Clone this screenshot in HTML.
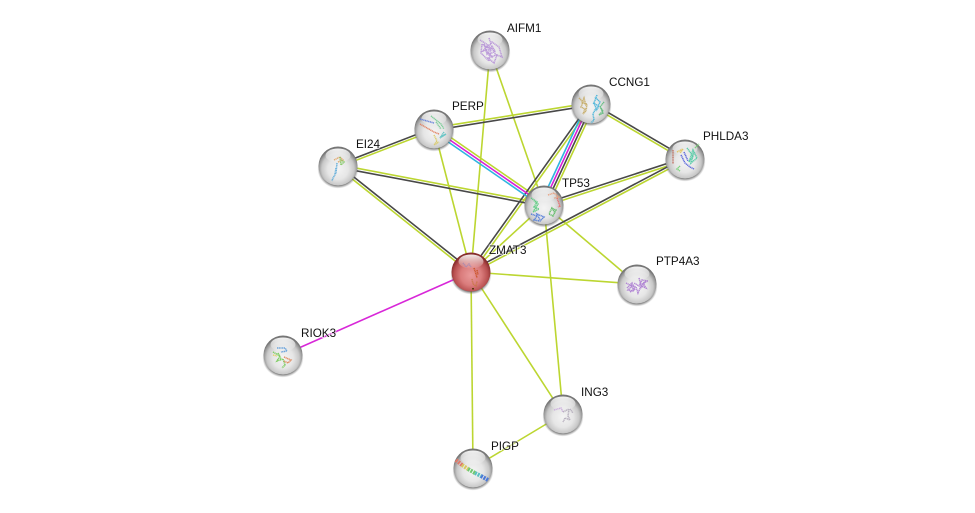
<!DOCTYPE html>
<html><head><meta charset="utf-8">
<style>
html,body{margin:0;padding:0;background:#fff;width:975px;height:513px;overflow:hidden}
svg{display:block}
text{font-family:"Liberation Sans",sans-serif;font-size:11.7px;fill:#111;stroke:#fff;stroke-width:2px;stroke-opacity:.6;paint-order:stroke}
.g line{stroke:#bcd631}.d line{stroke:#484848}
.g line,.d line,.o line{stroke-width:1.6;fill:none}
.s{fill:none;stroke-width:1.5;stroke-opacity:.88;stroke-linecap:butt;stroke-dasharray:1.2 .5}
</style></head><body>
<svg width="975" height="513" viewBox="0 0 975 513" xmlns="http://www.w3.org/2000/svg">
<defs>
<radialGradient id="b" cx="50%" cy="58%" r="53%">
<stop offset="0" stop-color="#f4f4f4"/><stop offset=".5" stop-color="#e6e6e6"/><stop offset=".78" stop-color="#c8c8c8"/><stop offset=".93" stop-color="#969696"/><stop offset="1" stop-color="#767676"/>
</radialGradient>
<radialGradient id="r" cx="50%" cy="58%" r="53%">
<stop offset="0" stop-color="#ea9a9a"/><stop offset=".5" stop-color="#da7c7c"/><stop offset=".82" stop-color="#b85050"/><stop offset="1" stop-color="#862c2c"/>
</radialGradient>
<linearGradient id="h" x1="0" y1="0" x2="0" y2="1">
<stop offset="0" stop-color="#fff" stop-opacity=".92"/><stop offset="1" stop-color="#fff" stop-opacity=".04"/>
</linearGradient>
<radialGradient id="sh" cx="50%" cy="50%" r="50%">
<stop offset=".84" stop-color="#444" stop-opacity=".75"/><stop offset="1" stop-color="#777" stop-opacity="0"/>
</radialGradient>
<g id="base">
<ellipse cx="0" cy="3" rx="20.500" ry="19.500" fill="url(#sh)"/>
<circle r="19.500" fill="url(#b)"/>
</g>
<g id="gloss"><ellipse cx="0" cy="-10.500" rx="12.500" ry="7" fill="url(#h)"/></g>
</defs>

<g class="g">
<line x1="490" y1="50" x2="471" y2="272"/>
<line x1="490" y1="50" x2="544" y2="205"/>
<line x1="434" y1="129" x2="471" y2="272"/>
<line x1="544" y1="205" x2="471" y2="272"/>
<line x1="544" y1="205" x2="637" y2="284"/>
<line x1="544" y1="205" x2="563" y2="414"/>
<line x1="471" y1="272" x2="637" y2="284"/>
<line x1="471" y1="272" x2="563" y2="414"/>
<line x1="471" y1="272" x2="473" y2="468"/>
<line x1="473" y1="468" x2="563" y2="414"/>
<line x1="434.4" y1="130.1" x2="338.4" y2="167.1"/>
<line x1="434" y1="127.7" x2="591" y2="102.7"/>
<line x1="338.2" y1="164.7" x2="544.2" y2="203.7"/>
<line x1="337.2" y1="167" x2="470.2" y2="273"/>
<line x1="435.5" y1="126.9" x2="545.5" y2="202.9"/>
<line x1="594.5" y1="105.6" x2="547.5" y2="206.6"/>
<line x1="592.1" y1="104.8" x2="472.1" y2="272.8"/>
<line x1="590.35" y1="105.1" x2="684.35" y2="160.1"/>
<line x1="685.4" y1="160.2" x2="544.4" y2="206.2"/>
<line x1="685.6" y1="160.1" x2="471.6" y2="273.1"/>
</g>
<g class="d">
<line x1="433.6" y1="127.9" x2="337.6" y2="164.9"/>
<line x1="434" y1="130.3" x2="591" y2="105.3"/>
<line x1="337.8" y1="167.3" x2="543.8" y2="206.3"/>
<line x1="338.8" y1="165" x2="471.8" y2="271"/>
<line x1="592.2" y1="104.55" x2="545.2" y2="205.55"/>
<line x1="589.9" y1="103.2" x2="469.9" y2="271.2"/>
<line x1="591.65" y1="102.9" x2="685.65" y2="157.9"/>
<line x1="684.6" y1="157.8" x2="543.6" y2="203.8"/>
<line x1="684.4" y1="157.9" x2="470.4" y2="270.9"/>
</g>
<g class="o">
<line x1="434" y1="129" x2="544" y2="205" stroke="#d81fd8"/>
<line x1="432.5" y1="131.1" x2="542.5" y2="207.1" stroke="#2fb4e0"/>
<line x1="589.8" y1="103.45" x2="542.8" y2="204.45" stroke="#d81fd8"/>
<line x1="587.5" y1="102.4" x2="540.5" y2="203.4" stroke="#2fb4e0"/>
<line x1="471" y1="272" x2="283" y2="355" stroke="#d827d8"/>
</g>

<!-- AIFM1 -->
<use href="#base" x="490" y="50"/>
<use href="#gloss" x="490" y="50"/>
<path class="s" stroke="#b48ed6" d="M480 40l8 5-5 6 9-3 4 7-8 3 6 5 3-8 5 2-3-10-7-5-4 6-6-4-1 9 8 8 2-12M484 44l3 10 5-8 3 5-6 4-3-5 7 8M489 38l2 6-4 3 6 2"/>
<!-- CCNG1 -->
<use href="#base" x="591" y="104"/>
<use href="#gloss" x="591" y="104"/>
<path class="s" stroke="#c4a860" d="M579 98l4 4-2 5 4 2-2 5 3-3 1-7-5-1 2-5 2 8"/>
<path class="s" stroke="#3fb0d8" d="M597 95l-3 8 2 5-3 6 1 6-3 3M593 103l6 3-3 5 4-9-5-5"/>
<path class="s" stroke="#5ab878" d="M604 102l-4 5 3 4-4 4 4-2-2-5"/>
<!-- PERP -->
<use href="#base" x="434" y="129"/>
<use href="#gloss" x="434" y="129"/>
<path class="s" stroke="#5a78d8" d="M420 119l14 4" stroke-width="2.500"/>
<path class="s" stroke="#e07a5a" d="M420 124l14 8 5 2" stroke-width="2.500"/>
<path class="s" stroke="#70c890" d="M431 116l10 8 3 5M436 122l5 7"/>
<path class="s" stroke="#58c0c0" d="M444 132l-4 6 6-4-5 3"/>
<path class="s" stroke="#d8c860" d="M434 135l3 6-3 4 5-3"/>
<!-- EI24 -->
<use href="#base" x="338" y="166"/>
<use href="#gloss" x="338" y="166"/>
<path class="s" stroke="#e0a060" d="M334 160l6-3 3 3-5 2"/>
<path class="s" stroke="#80c860" d="M340 157l1 8 3-3-3-2"/>
<path class="s" stroke="#58a8d8" d="M337 163l-1 10-3 5-1 3M336 168l-1 6"/>
<!-- PHLDA3 -->
<use href="#base" x="685" y="159"/>
<use href="#gloss" x="685" y="159"/>
<path class="s" stroke="#c07060" d="M673 150v14" stroke-width="2.500"/>
<path class="s" stroke="#4a58d8" d="M681 155l4 8 5 4 4 2M684 152l4 9"/>
<path class="s" stroke="#48c8a0" d="M687 148l6 8-4 6 4-12 4 8-6 5 3-11"/>
<path class="s" stroke="#e0c050" d="M677 152l6-3-3 4"/>
<path class="s" stroke="#70d070" d="M680 166l-3 3 3 2M695 148l4-4"/>
<!-- TP53 -->
<use href="#base" x="544" y="205"/>
<use href="#gloss" x="544" y="205"/>
<path class="s" stroke="#50c878" d="M531 198l6 4-3 5 5 2-6 3 5-8-4-3"/>
<path class="s" stroke="#58b860" d="M551 208l5 2-3 6-4-2 3-6 3 5"/>
<path class="s" stroke="#e8a080" d="M548 195l6-2 5 4-5 1"/>
<path class="s" stroke="#e86868" d="M557 198l3 8-2 1"/>
<path class="s" stroke="#4a78d8" d="M531 214l6 2-3 4 6 1 4-4-7-3 3 6"/>
<!-- ZMAT3 -->
<ellipse cx="471" cy="275" rx="20.500" ry="19.500" fill="url(#sh)"/>
<circle cx="471" cy="272" r="19.500" fill="url(#r)"/>
<use href="#gloss" x="471" y="272"/>
<path class="s" stroke="#a88ab0" d="M463 263l3 4 3-3 2 3"/>
<path class="s" stroke="#c85020" d="M474 268l2 6 1 4M477 270l1 5"/>
<path class="s" stroke="#c87848" stroke-width=".8" d="M472 279l1 5 3 2 1-5"/>
<path d="M472 288h2v1.500h-2z" fill="#5a3a10"/>
<!-- PTP4A3 -->
<use href="#base" x="637" y="284"/>
<use href="#gloss" x="637" y="284"/>
<path class="s" stroke="#a878d0" d="M626 283l6 3-4 4 6 1-3-6 5 2 2 6 3-7 5 2-3-5 5-2-6-1-3 6-5-3M627 288l5-5 3 7M639 278l2 7 4-3-5 7M630 292l5-3"/>
<!-- RIOK3 -->
<use href="#base" x="283" y="355"/>
<use href="#gloss" x="283" y="355"/>
<path class="s" stroke="#5a9ad8" d="M277 348l8 0 2 3-6 1"/>
<path class="s" stroke="#70c850" d="M273 352l7 4-3 5 6-2 2 6-3 3M278 353l3 6"/>
<path class="s" stroke="#e08050" d="M284 357l7 3-3 3-4-2"/>
<path class="s" stroke="#e0d060" d="M273 355l4 1"/>
<!-- ING3 -->
<use href="#base" x="563" y="414"/>
<use href="#gloss" x="563" y="414"/>
<path class="s" stroke="#c8a8dc" d="M554 410l7-2 2 4"/>
<path class="s" stroke="#b0a8b8" stroke-width=".9" d="M563 412l6-3-1 7 2 4-5-2-2 4M570 409l3 4"/>
<!-- PIGP -->
<use href="#base" x="473" y="468"/>
<use href="#gloss" x="473" y="468"/>
<path d="M456 460l6 5" stroke="#e07a6a" stroke-width="4" stroke-dasharray="2 1" fill="none"/>
<path d="M462 465l6 4" stroke="#d8c860" stroke-width="4" stroke-dasharray="2 1" fill="none"/>
<path d="M468 469l7 4" stroke="#70c870" stroke-width="4" stroke-dasharray="2 1" fill="none"/>
<path d="M475 473l6 3" stroke="#58c0c0" stroke-width="4" stroke-dasharray="2 1" fill="none"/>
<path d="M481 476l7 4" stroke="#4a78d8" stroke-width="4" stroke-dasharray="2 1" fill="none"/>

<text x="507" y="32">AIFM1</text>
<text x="609" y="86">CCNG1</text>
<text x="452" y="110">PERP</text>
<text x="703" y="140">PHLDA3</text>
<text x="356" y="148">EI24</text>
<text x="562" y="187">TP53</text>
<text x="489" y="254">ZMAT3</text>
<text x="656" y="265">PTP4A3</text>
<text x="301" y="337">RIOK3</text>
<text x="581" y="396">ING3</text>
<text x="491" y="450">PIGP</text>
</svg>
</body></html>
